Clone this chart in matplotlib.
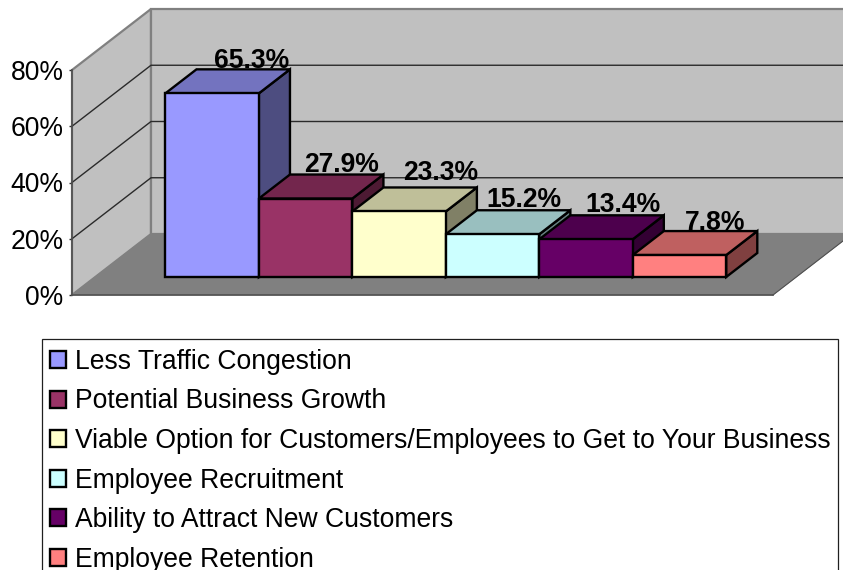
import matplotlib
matplotlib.use("Agg")
import matplotlib.pyplot as plt
from matplotlib.patches import Patch, Polygon, Rectangle

plt.rcParams['font.family'] = ['Liberation Sans', 'DejaVu Sans']

# data
categories = ["Less Traffic Congestion", "Potential Business Growth",
              "Viable Option for Customers/Employees to Get to Your Business",
              "Employee Recruitment", "Ability to Attract New Customers",
              "Employee Retention"]
values = [65.3, 27.9, 23.3, 15.2, 13.4, 7.8]
value_labels = ["65.3%", "27.9%", "23.3%", "15.2%", "13.4%", "7.8%"]
bar_colors = ["#9999FF", "#993366", "#FFFFCC", "#CCFFFF", "#660066", "#FF8080"]
y_ticks = [0, 20, 40, 60, 80]
y_tick_labels = ["0%", "20%", "40%", "60%", "80%"]

W, H = 843, 570
FS = 19.1

# front plane of the box is the axes itself, depth gets skewed up and to the right
X0, X1, Y0, Y1 = 72, 773, 295, 70
GAP = 0.75
XMAX = len(values) + 2 * GAP
PX_X = (X1 - X0) / XMAX
PX_Y = (Y0 - Y1) / 80.0
DEPTH_X = 79
DEPTH_Y = 61
BAR_D0 = 18 / 61.0
BAR_D1 = 42 / 61.0


def pt(x, v, d=0.0):
    return (x + d * DEPTH_X / PX_X, v + d * DEPTH_Y / PX_Y)


def shade(col, k):
    r, g, b = matplotlib.colors.to_rgb(col)
    return (r * k, g * k, b * k)


def face(ax, pts, fc, ec, lw, z):
    ax.add_patch(Polygon(pts, closed=True, facecolor=fc, edgecolor=ec, linewidth=lw,
                         joinstyle="miter", clip_on=False, zorder=z))


fig = plt.figure(figsize=(W / 100, H / 100), dpi=100)
ax = fig.add_axes([X0 / W, 1 - Y0 / H, (X1 - X0) / W, (Y0 - Y1) / H])
ax.set_xlim(0, XMAX)
ax.set_ylim(0, 80)
ax.patch.set_visible(False)

# walls and floor
face(ax, [pt(0, 0), pt(0, 80), pt(0, 80, 1), pt(0, 0, 1)], "#C0C0C0", "#808080", 1.6, 1)
face(ax, [pt(0, 0, 1), pt(0, 80, 1), pt(XMAX, 80, 1), pt(XMAX, 0, 1)], "#C0C0C0", "#808080", 1.6, 1)
face(ax, [pt(0, 0), pt(XMAX, 0), pt(XMAX, 0, 1), pt(0, 0, 1)], "#808080", "#808080", 0.5, 2)
ax.plot(*zip(pt(0, 0), pt(XMAX, 0)), color="#505050", lw=1.2, clip_on=False, zorder=3)
ax.plot(*zip(pt(XMAX, 0), pt(XMAX, 0, 1)), color="#505050", lw=0.8, clip_on=False, zorder=3)

# gridlines
for v in y_ticks[1:-1]:
    ax.plot(*zip(pt(0, v), pt(0, v, 1), pt(XMAX, v, 1)), color="#2a2a2a", lw=1.0,
            clip_on=False, zorder=2)

# bars, left to right so each one covers the side of the previous
for i, v in enumerate(values):
    c = bar_colors[i]
    a = GAP + i
    b = a + 1
    z = 5 + i
    face(ax, [pt(b, 0, BAR_D0), pt(b, v, BAR_D0), pt(b, v, BAR_D1), pt(b, 0, BAR_D1)],
         shade(c, 0.5), "black", 1.7, z)
    face(ax, [pt(a, v, BAR_D0), pt(b, v, BAR_D0), pt(b, v, BAR_D1), pt(a, v, BAR_D1)],
         shade(c, 0.75), "black", 1.7, z)
    face(ax, [pt(a, 0, BAR_D0), pt(b, 0, BAR_D0), pt(b, v, BAR_D0), pt(a, v, BAR_D0)],
         c, "black", 1.7, z)

# value labels, excel puts them a bit unevenly
nudge_x = [8, 5, 11, 0, 6, 5]
nudge_y = [1, 3, 7, 3, 3, 1]
for i, v in enumerate(values):
    x, y = pt(GAP + i + 0.5, v, BAR_D1)
    ax.annotate(value_labels[i], (x, y), xytext=(nudge_x[i] * 0.72, nudge_y[i] * 0.72),
                textcoords="offset points", ha="center", va="baseline", fontsize=FS,
                fontweight="bold", color="black", zorder=20, annotation_clip=False)

# axis
ax.set_xticks([])
ax.set_yticks(y_ticks)
ax.set_yticklabels(y_tick_labels, fontsize=FS)
ax.tick_params(axis="y", length=2.2, width=1, pad=4, color="#303030")
for s in ["top", "right", "bottom"]:
    ax.spines[s].set_visible(False)
ax.spines["left"].set_color("#505050")
ax.spines["left"].set_linewidth(1.2)
ax.spines["left"].set_zorder(4)

# legend box runs off the bottom of the image in the original too
fig.add_artist(Rectangle((42 / W, 1 - 585 / H), 796 / W, 246 / H, transform=fig.transFigure,
                         facecolor="white", edgecolor="#202020", linewidth=0.9))
handles = [Patch(facecolor=c, edgecolor="black", linewidth=1.7) for c in bar_colors]
leg = fig.legend(handles, categories, loc="upper left", bbox_to_anchor=(42 / W, 1 - 341 / H),
                 bbox_transform=fig.transFigure, fontsize=FS, frameon=False,
                 borderaxespad=0, borderpad=0.3, labelspacing=0.51,
                 handlelength=0.62, handleheight=0.62, handletextpad=0.34)

fig.savefig("out.png", dpi=100)
